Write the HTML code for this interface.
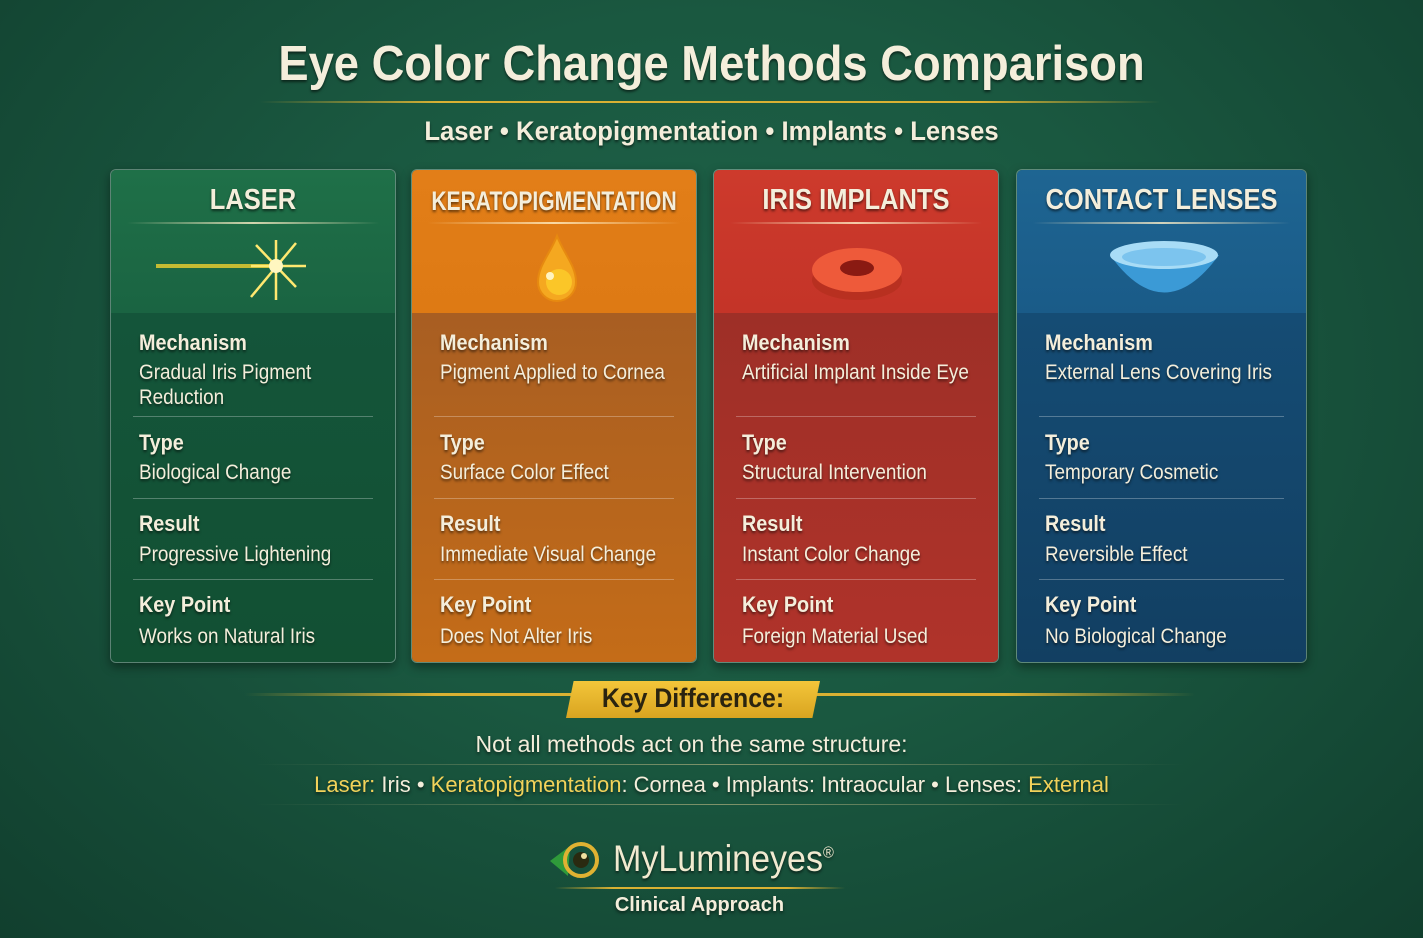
<!DOCTYPE html>
<html><head><meta charset="utf-8"><style>
*{margin:0;padding:0;box-sizing:border-box}
body{width:1423px;height:938px;overflow:hidden;position:relative;font-family:"Liberation Sans",sans-serif;color:#f4eedb;
background:radial-gradient(ellipse at 50% 40%,#1f644a 0%,#1a5840 45%,#113f2e 100%);}
.abs{position:absolute}
.c{text-align:center;left:0;width:1423px}
.sh{text-shadow:0 2px 3px rgba(0,0,0,.55)}
.card{position:absolute;top:169px;height:494px;border-radius:6px;overflow:hidden;border:1px solid rgba(255,255,255,.3);box-shadow:0 4px 10px rgba(0,0,0,.4)}
.hd{position:absolute;left:0;top:0;right:0;height:143px}
.bd{position:absolute;left:0;top:143px;right:0;bottom:0}
.tt{position:absolute;left:-20px;right:-20px;top:14px;text-align:center;font-weight:bold;font-size:29px;transform:scaleX(.88)}
.hl{position:absolute;left:16px;right:16px;top:52px;height:2px;background:linear-gradient(90deg,transparent,rgba(255,240,200,.8),transparent)}
.lb{position:absolute;left:28px;font-weight:bold;font-size:22px;transform:scaleX(.9);transform-origin:left;white-space:nowrap}
.vl{position:absolute;left:28px;font-size:21px;line-height:25px;transform:scaleX(.9);transform-origin:left;white-space:nowrap}
.sp{position:absolute;left:22px;right:22px;height:1px;background:rgba(255,255,255,.28)}
.gl{position:absolute;height:3px;background:linear-gradient(90deg,transparent,#d9b133 20%,#d9b133 80%,transparent)}
.y{color:#f2d25a}
</style></head><body>
<div class="abs c sh" style="top:36px;font-size:49px;font-weight:bold;transform:scaleX(.925)">Eye Color Change Methods Comparison</div>
<div class="gl" style="left:260px;width:900px;top:101px;height:2px"></div>
<div class="abs c sh" style="top:116px;font-size:27px;font-weight:bold;transform:scaleX(.95)">Laser • Keratopigmentation • Implants • Lenses</div>

<div class="card" style="left:110px;width:286px">
 <div class="hd" style="background:linear-gradient(#1f7048,#1a6442)"></div>
 <div class="bd" style="background:linear-gradient(#14553a,#125033)"></div>
 <div class="tt sh">LASER</div><div class="hl"></div>
 <svg class="abs" style="left:40px;top:60px" width="200" height="80"><line x1="5" y1="36" x2="130" y2="36" stroke="#f0d030" stroke-width="4" opacity=".8"/>
 <g stroke="#ffe870" stroke-width="2.5"><line x1="125" y1="10" x2="125" y2="70"/><line x1="100" y1="36" x2="155" y2="36"/><line x1="105" y1="15" x2="145" y2="57"/><line x1="145" y1="13" x2="100" y2="67"/></g><circle cx="125" cy="36" r="7" fill="#fff6c0"/></svg>
 <div class="lb sh" style="top:160px">Mechanism</div><div class="vl sh" style="top:190px">Gradual Iris Pigment<br>Reduction</div>
 <div class="sp" style="top:246px"></div>
 <div class="lb sh" style="top:260px">Type</div><div class="vl sh" style="top:290px">Biological Change</div>
 <div class="sp" style="top:328px"></div>
 <div class="lb sh" style="top:341px">Result</div><div class="vl sh" style="top:372px">Progressive Lightening</div>
 <div class="sp" style="top:409px"></div>
 <div class="lb sh" style="top:422px">Key Point</div><div class="vl sh" style="top:454px">Works on Natural Iris</div>
</div>

<div class="card" style="left:411px;width:286px">
 <div class="hd" style="background:linear-gradient(#e27e18,#de7a14)"></div>
 <div class="bd" style="background:linear-gradient(#a85e22,#c46c18)"></div>
 <div class="tt sh" style="font-size:27px;top:16px;transform:scaleX(.78)">KERATOPIGMENTATION</div><div class="hl"></div>
 <svg class="abs" style="left:110px;top:60px" width="70" height="80"><path d="M35 6 C28 24 16 36 16 52 A19 19 0 0 0 54 52 C54 36 42 24 35 6Z" fill="#f5a820" stroke="#e78a10" stroke-width="2"/><circle cx="37" cy="52" r="13" fill="#fbc628"/><circle cx="28" cy="46" r="4" fill="#fff4c0"/></svg>
 <div class="lb sh" style="top:160px">Mechanism</div><div class="vl sh" style="top:190px">Pigment Applied to Cornea</div>
 <div class="sp" style="top:246px"></div>
 <div class="lb sh" style="top:260px">Type</div><div class="vl sh" style="top:290px">Surface Color Effect</div>
 <div class="sp" style="top:328px"></div>
 <div class="lb sh" style="top:341px">Result</div><div class="vl sh" style="top:372px">Immediate Visual Change</div>
 <div class="sp" style="top:409px"></div>
 <div class="lb sh" style="top:422px">Key Point</div><div class="vl sh" style="top:454px">Does Not Alter Iris</div>
</div>

<div class="card" style="left:713px;width:286px">
 <div class="hd" style="background:linear-gradient(#cd3a2c,#c43428)"></div>
 <div class="bd" style="background:linear-gradient(#9e2f27,#b0332a)"></div>
 <div class="tt sh">IRIS IMPLANTS</div><div class="hl"></div>
 <svg class="abs" style="left:93px;top:68px" width="100" height="70"><ellipse cx="50" cy="42" rx="45" ry="20" fill="#b83020"/><ellipse cx="50" cy="32" rx="45" ry="22" fill="#ee5a3a"/><ellipse cx="50" cy="30" rx="17" ry="8" fill="#8a1a12"/></svg>
 <div class="lb sh" style="top:160px">Mechanism</div><div class="vl sh" style="top:190px">Artificial Implant Inside Eye</div>
 <div class="sp" style="top:246px"></div>
 <div class="lb sh" style="top:260px">Type</div><div class="vl sh" style="top:290px">Structural Intervention</div>
 <div class="sp" style="top:328px"></div>
 <div class="lb sh" style="top:341px">Result</div><div class="vl sh" style="top:372px">Instant Color Change</div>
 <div class="sp" style="top:409px"></div>
 <div class="lb sh" style="top:422px">Key Point</div><div class="vl sh" style="top:454px">Foreign Material Used</div>
</div>

<div class="card" style="left:1016px;width:291px">
 <div class="hd" style="background:linear-gradient(#1e6592,#1a5b88)"></div>
 <div class="bd" style="background:linear-gradient(#154c74,#123f62)"></div>
 <div class="tt sh">CONTACT LENSES</div><div class="hl"></div>
 <svg class="abs" style="left:90px;top:65px" width="115" height="70"><path d="M3 20 Q57 95 112 20 Z" fill="#3b9ad6"/><ellipse cx="57" cy="20" rx="54" ry="14" fill="#a8dcf6"/><ellipse cx="57" cy="22" rx="42" ry="9" fill="#7cc4ee"/></svg>
 <div class="lb sh" style="top:160px">Mechanism</div><div class="vl sh" style="top:190px">External Lens Covering Iris</div>
 <div class="sp" style="top:246px"></div>
 <div class="lb sh" style="top:260px">Type</div><div class="vl sh" style="top:290px">Temporary Cosmetic</div>
 <div class="sp" style="top:328px"></div>
 <div class="lb sh" style="top:341px">Result</div><div class="vl sh" style="top:372px">Reversible Effect</div>
 <div class="sp" style="top:409px"></div>
 <div class="lb sh" style="top:422px">Key Point</div><div class="vl sh" style="top:454px">No Biological Change</div>
</div>

<div class="gl" style="left:245px;width:950px;top:693px"></div>
<div class="abs" style="left:566px;top:681px;width:254px;height:37px;background:linear-gradient(#f3c63a,#d9a420);clip-path:polygon(3% 0,100% 0,97% 100%,0 100%)"></div>
<div class="abs" style="left:566px;top:683px;width:254px;text-align:center;font-size:27px;font-weight:bold;color:#2a2410;transform:scaleX(.92)">Key Difference:</div>
<div class="abs c sh" style="top:731px;font-size:23px;left:-20px">Not all methods act on the same structure:</div>
<div class="abs" style="left:255px;width:930px;top:764px;height:1px;background:linear-gradient(90deg,transparent,rgba(230,210,150,.5),transparent)"></div>
<div class="abs c sh" style="top:772px;font-size:22px;"><span class="y">Laser:</span> Iris • <span class="y">Keratopigmentation</span>: Cornea • Implants: Intraocular • Lenses: <span class="y">External</span></div>
<div class="abs" style="left:255px;width:930px;top:804px;height:1px;background:linear-gradient(90deg,transparent,rgba(230,210,150,.5),transparent)"></div>
<svg class="abs" style="left:548px;top:840px" width="62" height="42"><path d="M2 21 L22 6 L20 36Z" fill="#2f9a3a"/><circle cx="33" cy="20" r="16" fill="none" stroke="#e0b232" stroke-width="4"/><circle cx="33" cy="20" r="8" fill="#2a2a10"/><circle cx="36" cy="16" r="3" fill="#f0e0a0"/></svg>
<div class="abs sh" style="left:613px;top:838px;font-size:37px;color:#f1ead0;transform:scaleX(.92);transform-origin:left">MyLumineyes<sup style="font-size:16px">®</sup></div>
<div class="gl" style="left:555px;width:290px;top:887px;height:2px"></div>
<div class="abs c sh" style="top:894px;font-size:20px;font-weight:bold;left:-12px">Clinical Approach</div>
</body></html>
